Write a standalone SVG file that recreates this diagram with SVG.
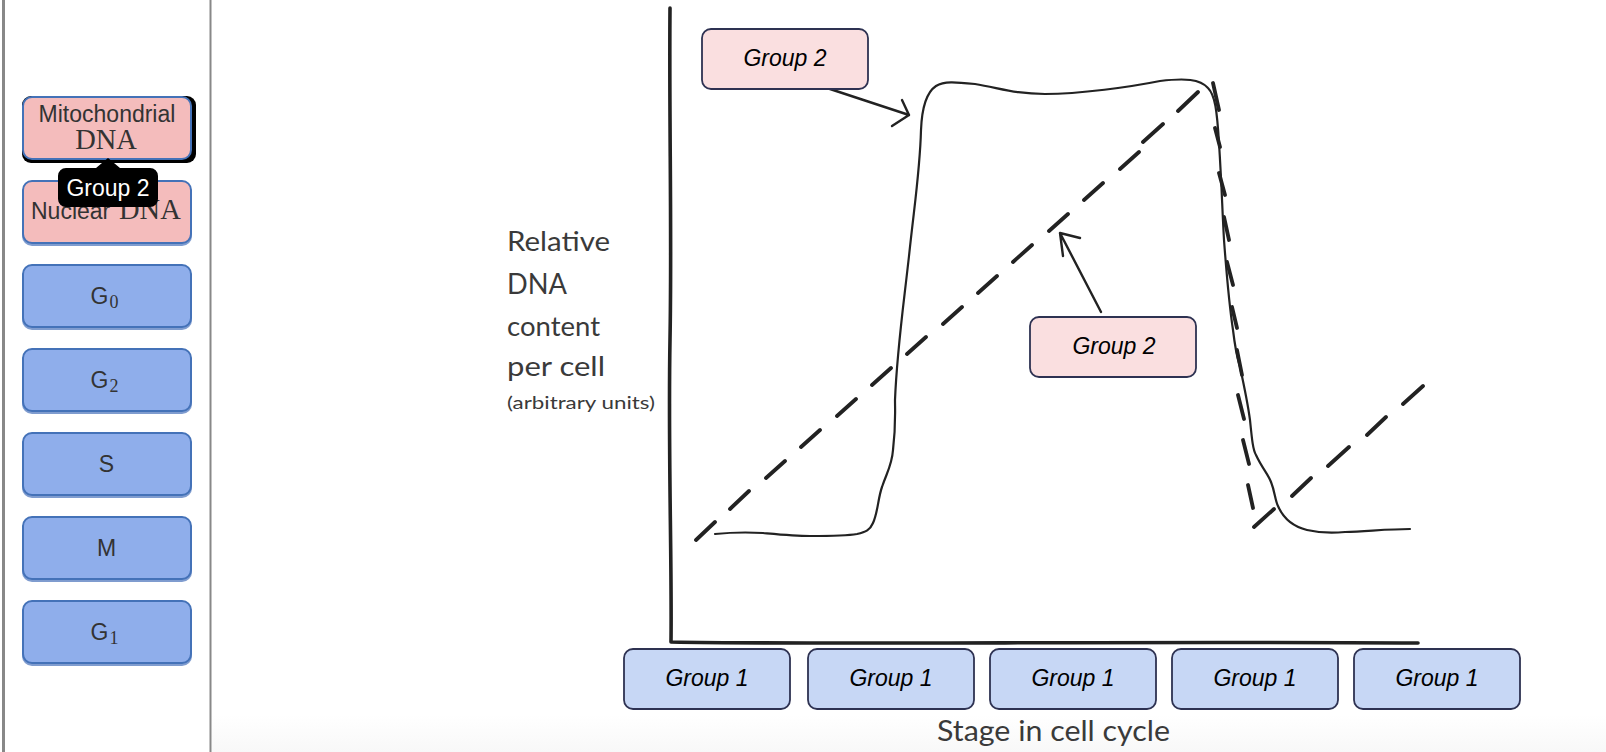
<svg xmlns="http://www.w3.org/2000/svg" width="1606" height="752" viewBox="0 0 1606 752">
<style>
.sans{font-family:"Liberation Sans",Arial,sans-serif}
.serif{font-family:"Liberation Serif","Times New Roman",serif}
.btn{stroke:#4472b8;stroke-width:2}
.under{fill:#7f9ccf}
.blue{fill:#8faeeb}
.pink{fill:#f4bcbc}
.lbl{font-size:23px;fill:#333;text-anchor:middle}
.lblb{font-size:23px;fill:#333}
.math{font-size:28.500px;fill:#333}
.sub{font-size:18px;fill:#333}
.box{stroke:#2e3252;stroke-width:1.800}
.g1{fill:#c7d7f5}
.g2{fill:#fadfe0}
.boxt{font-size:23px;font-style:italic;fill:#000;text-anchor:middle}
.hand{font-family:"Lato","Open Sans",sans-serif;fill:#3a3a3a}
.ink{fill:none;stroke:#222;stroke-linecap:round;stroke-linejoin:round}
</style>
<defs>
<linearGradient id="fade" x1="0" y1="0" x2="0" y2="1"><stop offset="0" stop-color="#fff"/><stop offset="1" stop-color="#f8f8f8"/></linearGradient>
</defs>
<rect width="1606" height="752" fill="#fff"/>
<rect x="212" y="715" width="1394" height="37" fill="url(#fade)"/>
<rect x="2" y="0" width="3" height="752" fill="#888"/>
<rect x="209.500" y="0" width="2" height="752" fill="#888"/>

<g id="connectors">
<path id="axes" class="ink" stroke-width="3.600" d="M670 8C669 120 672 230 670 340S672 560 671 642C840 645 1100 641 1418 643"/>
<path id="curve" class="ink" stroke-width="2.200" stroke="#333" d="M715 534C735 532 745 532 763 533C785 535 795 536 810 536C830 536 846 536 857 534C866 532 870 530 873 523C878 512 878 498 882 487C887 472 892 465 893 450C896 425 895 410 895 400C897 350 903 310 909 256C915 200 920 170 921 130C922 105 927 92 936 86C944 81 955 82 975 84C1000 88 1015 94 1045 94C1080 94 1130 87 1160 81C1185 78 1200 79 1208 88C1215 95 1217 110 1219 143C1222 190 1222 205 1224 240C1227 280 1230 310 1233 330C1236 355 1238 360 1240 367C1245 390 1248 405 1250 420C1252 440 1253 450 1256 455C1262 468 1268 474 1271 482C1275 492 1275 500 1278 506C1284 520 1295 527 1307 530C1320 533 1335 533 1345 532C1370 531 1390 529 1410 529"/>
<path id="dash-rise" class="ink" stroke-width="3.800" d="M696 540L715 522M730 509L749 491M766 478L785 461M801 447L820 430M837 416L856 399M872 385L891 368M907 354L926 337M943 324L962 307M978 293L997 276M1013 262L1032 245M1049 231L1068 214M1084 200L1103 183M1120 169L1139 152M1143 142L1163 124M1178 111L1198 92"/>
<path id="dash-fall" class="ink" stroke-width="3.800" d="M1213 83L1219 110M1215 128L1220 147M1219 173L1225 195M1224 217L1229 240M1227 262L1233 285M1232 307L1237 328M1237 350L1242 375M1238 395L1244 419M1243 440L1249 464M1248 485L1253 508"/>
<path id="dash-rise-2" class="ink" stroke-width="3.800" d="M1254 527L1274 509M1292 496L1311 478M1328 466L1349 447M1367 435L1386 417M1403 404L1423 386"/>
<path id="arrow-a" class="ink" stroke="#333" stroke-width="2.400" d="M827 88L909 115M902 100L909 115L892 126"/>
<path id="arrow-b" class="ink" stroke="#333" stroke-width="2.400" d="M1101 312L1060 233M1080 238L1060 233L1063 256"/>
</g>

<g id="node-mito">
<rect x="22" y="96" width="174" height="67" rx="9" fill="#000"/>
<rect class="btn pink" x="23" y="97" width="168" height="62" rx="9"/>
<text class="sans lbl" x="107" y="122">Mitochondrial</text>
<text class="serif math" x="106" y="149" text-anchor="middle">DNA</text>
</g>
<g id="node-nuclear">
<rect class="under" x="22" y="183" width="170" height="63" rx="10"/>
<rect class="btn pink" x="23" y="181" width="168" height="62" rx="9"/>
<text class="sans lblb" x="31" y="219">Nuclear</text>
<text class="serif math" x="119" y="219">DNA</text>
</g>
<g id="node-g0">
<rect class="under" x="22" y="267" width="170" height="63" rx="10"/>
<rect class="btn blue" x="23" y="265" width="168" height="62" rx="9"/>
<text class="sans lblb" x="90.500" y="304">G</text><text class="serif sub" x="109.500" y="308">0</text>
</g>
<g id="node-g2">
<rect class="under" x="22" y="351" width="170" height="63" rx="10"/>
<rect class="btn blue" x="23" y="349" width="168" height="62" rx="9"/>
<text class="sans lblb" x="90.500" y="388">G</text><text class="serif sub" x="109.500" y="392">2</text>
</g>
<g id="node-s">
<rect class="under" x="22" y="435" width="170" height="63" rx="10"/>
<rect class="btn blue" x="23" y="433" width="168" height="62" rx="9"/>
<text class="sans lbl" x="106.500" y="472">S</text>
</g>
<g id="node-m">
<rect class="under" x="22" y="519" width="170" height="63" rx="10"/>
<rect class="btn blue" x="23" y="517" width="168" height="62" rx="9"/>
<text class="sans lbl" x="106.500" y="556">M</text>
</g>
<g id="node-g1">
<rect class="under" x="22" y="603" width="170" height="63" rx="10"/>
<rect class="btn blue" x="23" y="601" width="168" height="62" rx="9"/>
<text class="sans lblb" x="90.500" y="640">G</text><text class="serif sub" x="109.500" y="644">1</text>
</g>
<g id="tooltip">
<path d="M108 158L120 168H150a8 8 0 0 1 8 8V199a8 8 0 0 1-8 8H66a8 8 0 0 1-8-8V176a8 8 0 0 1 8-8H96Z" fill="#000"/>
<text class="sans" x="108" y="196" font-size="23" fill="#fff" text-anchor="middle">Group 2</text>
</g>

<g id="drop-g2-a"><rect class="box g2" x="702" y="29" width="166" height="60" rx="9"/><text class="sans boxt" x="785" y="66">Group 2</text></g>
<g id="drop-g2-b"><rect class="box g2" x="1030" y="317" width="166" height="60" rx="9"/><text class="sans boxt" x="1114" y="354">Group 2</text></g>
<g id="drop-g1-a"><rect class="box g1" x="624" y="649" width="166" height="60" rx="9"/><text class="sans boxt" x="707" y="686">Group 1</text></g>
<g id="drop-g1-b"><rect class="box g1" x="808" y="649" width="166" height="60" rx="9"/><text class="sans boxt" x="891" y="686">Group 1</text></g>
<g id="drop-g1-c"><rect class="box g1" x="990" y="649" width="166" height="60" rx="9"/><text class="sans boxt" x="1073" y="686">Group 1</text></g>
<g id="drop-g1-d"><rect class="box g1" x="1172" y="649" width="166" height="60" rx="9"/><text class="sans boxt" x="1255" y="686">Group 1</text></g>
<g id="drop-g1-e"><rect class="box g1" x="1354" y="649" width="166" height="60" rx="9"/><text class="sans boxt" x="1437" y="686">Group 1</text></g>

<g id="axis-labels" class="hand">
<text x="507" y="251" font-size="27" textLength="103" lengthAdjust="spacingAndGlyphs">Relative</text>
<text x="507" y="294" font-size="29" textLength="60" lengthAdjust="spacingAndGlyphs">DNA</text>
<text x="507" y="336" font-size="27" textLength="93" lengthAdjust="spacingAndGlyphs">content</text>
<text x="507" y="376" font-size="27" textLength="98" lengthAdjust="spacingAndGlyphs">per cell</text>
<text x="507" y="409" font-size="18" textLength="148" lengthAdjust="spacingAndGlyphs">(arbitrary units)</text>
<text x="937" y="741" font-size="29" textLength="233" lengthAdjust="spacingAndGlyphs">Stage in cell cycle</text>
</g>
</svg>
